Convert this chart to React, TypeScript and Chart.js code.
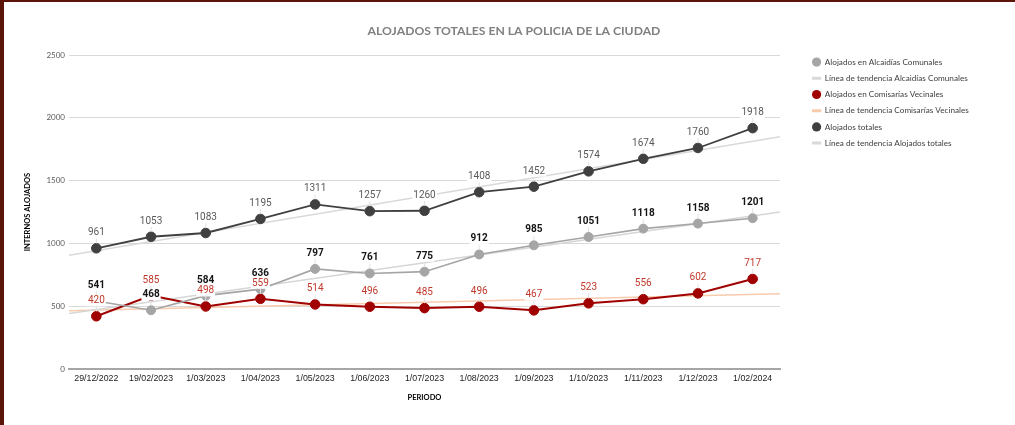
import React, { useEffect, useRef } from "react";
import { Chart, registerables } from "chart.js";

Chart.register(...registerables);

const categories = [
  "29/12/2022", "19/02/2023", "1/03/2023", "1/04/2023", "1/05/2023", "1/06/2023",
  "1/07/2023", "1/08/2023", "1/09/2023", "1/10/2023", "1/11/2023", "1/12/2023", "1/02/2024",
];
const alcaidias = [541, 468, 584, 636, 797, 761, 775, 912, 985, 1051, 1118, 1158, 1201];
const comisarias = [420, 585, 498, 559, 514, 496, 485, 496, 467, 523, 556, 602, 717];
const totales = [961, 1053, 1083, 1195, 1311, 1257, 1260, 1408, 1452, 1574, 1674, 1760, 1918];
const yTicks = [0, 500, 1000, 1500, 2000, 2500];
const seriesNames = [
  "Alojados en Alcaidías Comunales",
  "Línea de tendencia Alcaidías Comunales",
  "Alojados en Comisarías Vecinales",
  "Línea de tendencia Comisarías Vecinales",
  "Alojados totales",
  "Línea de tendencia Alojados totales",
];
const TITLE = "ALOJADOS TOTALES EN LA POLICIA DE LA CIUDAD";
const Y_TITLE = "INTERNOS ALOJADOS";
const X_TITLE = "PERIODO";

const X_MIN = -0.5;
const X_MAX = categories.length - 0.5;

function points(values: number[]) {
  return values.map((v, i) => ({ x: i, y: v }));
}

// Linear least-squares trend line computed from the series, spanning the plot
function trend(values: number[]) {
  const n = values.length;
  const mx = (n - 1) / 2;
  const my = values.reduce((a, b) => a + b, 0) / n;
  let sxy = 0;
  let sxx = 0;
  values.forEach((v, i) => {
    sxy += (i - mx) * (v - my);
    sxx += (i - mx) * (i - mx);
  });
  const b = sxy / sxx;
  const a = my - b * mx;
  return [X_MIN, X_MAX].map((x) => ({ x, y: a + b * x }));
}

const labelSpecs = [
  { dataset: 0, values: alcaidias, color: "#141414", weight: "bold" },
  { dataset: 2, values: comisarias, color: "#c0392b", weight: "normal" },
  { dataset: 4, values: totales, color: "#595959", weight: "normal" },
];

const valueLabels = {
  id: "valueLabels",
  afterDatasetsDraw(chart: any) {
    const ctx = chart.ctx;
    ctx.save();
    const items: any[] = [];
    labelSpecs.forEach((spec) => {
      const meta = chart.getDatasetMeta(spec.dataset);
      meta.data.forEach((pt: any, i: number) => {
        items.push({ x: pt.x, y: pt.y, text: String(spec.values[i]), color: spec.color, weight: spec.weight });
      });
    });
    ctx.strokeStyle = "#e2e2e2";
    ctx.lineWidth = 1;
    items.forEach((it) => {
      ctx.beginPath();
      ctx.moveTo(it.x, it.y - 10);
      ctx.lineTo(it.x, it.y - 5);
      ctx.stroke();
    });
    ctx.textAlign = "center";
    ctx.textBaseline = "middle";
    items.forEach((it) => {
      ctx.font = `${it.weight} 10px Roboto`;
      const w = ctx.measureText(it.text).width;
      const ly = it.y - 15.5;
      ctx.fillStyle = "#ffffff";
      ctx.fillRect(it.x - w / 2 - 1, ly - 5.5, w + 2, 11);
      ctx.fillStyle = it.color;
      ctx.fillText(it.text, it.x, ly);
    });
    ctx.restore();
  },
};

const LEGEND_WIDTH = 210.5;
const legendWidth = {
  id: "legendWidth",
  afterInit(chart: any) {
    const lg = chart.legend;
    if (lg && !lg.__wrapped) {
      const orig = lg.fit;
      lg.fit = function () {
        orig.call(this);
        this.width = LEGEND_WIDTH;
      };
      lg.__wrapped = true;
    }
  },
};

export default function App() {
  const ref = useRef<HTMLCanvasElement | null>(null);

  useEffect(() => {
    if (!ref.current) return;
    const grey = "#a5a5a5";
    const red = "#a00000";
    const dark = "#404040";
    const chart = new Chart(ref.current, {
      type: "line",
      data: {
        datasets: [
          {
            label: seriesNames[0],
            data: points(alcaidias),
            borderColor: grey,
            backgroundColor: grey,
            pointBackgroundColor: grey,
            pointBorderColor: grey,
            borderWidth: 1.6,
            pointRadius: 4.5,
            pointBorderWidth: 1,
            pointStyle: "circle",
            tension: 0,
            order: 1,
          },
          {
            label: seriesNames[1],
            data: trend(alcaidias),
            borderColor: "#d6d6d6",
            backgroundColor: "#d6d6d6",
            pointBorderColor: "#d9d9d9",
            borderWidth: 1.5,
            pointRadius: 0,
            pointStyle: "line",
            order: 2,
          },
          {
            label: seriesNames[2],
            data: points(comisarias),
            borderColor: red,
            backgroundColor: red,
            pointBackgroundColor: red,
            pointBorderColor: red,
            borderWidth: 2,
            pointRadius: 4.8,
            pointBorderWidth: 1,
            pointStyle: "circle",
            tension: 0,
            order: 1,
          },
          {
            label: seriesNames[3],
            data: trend(comisarias),
            borderColor: "#f8cbad",
            backgroundColor: "#f8cbad",
            pointBorderColor: "#f8cbad",
            borderWidth: 1.5,
            pointRadius: 0,
            pointStyle: "line",
            order: 2,
          },
          {
            label: seriesNames[4],
            data: points(totales),
            borderColor: dark,
            backgroundColor: dark,
            pointBackgroundColor: dark,
            pointBorderColor: dark,
            borderWidth: 1.8,
            pointRadius: 4.8,
            pointBorderWidth: 1,
            pointStyle: "circle",
            tension: 0,
            order: 1,
          },
          {
            label: seriesNames[5],
            data: trend(totales),
            borderColor: "#d9d9d9",
            backgroundColor: "#d9d9d9",
            pointBorderColor: "#d9d9d9",
            borderWidth: 1.5,
            pointRadius: 0,
            pointStyle: "line",
            order: 2,
          },
        ],
      },
      options: {
        responsive: false,
        animation: false,
        devicePixelRatio: 1,
        layout: { padding: { left: 9, right: 0, top: 0, bottom: 0 } },
        scales: {
          x: {
            type: "linear",
            min: X_MIN,
            max: X_MAX,
            afterBuildTicks: (s: any) => {
              s.ticks = categories.map((_, i) => ({ value: i }));
            },
            afterFit: (s: any) => {
              s.height = 56;
            },
            ticks: {
              callback: (v: any) => categories[v] ?? "",
              autoSkip: false,
              maxRotation: 0,
              color: "#222222",
              padding: 4,
              font: { family: "Liberation Sans", size: 8.8 },
            },
            grid: { display: false, drawTicks: false },
            border: { display: true, color: "#a6a6a6", width: 2 },
            title: {
              display: true,
              text: X_TITLE,
              color: "#000000",
              font: { family: "Lato", size: 7.5, weight: "bold" },
              padding: { top: 0, bottom: 22.5 },
            },
          },
          y: {
            type: "linear",
            min: 0,
            max: 2500,
            afterBuildTicks: (s: any) => {
              s.ticks = yTicks.map((v) => ({ value: v }));
            },
            afterFit: (s: any) => {
              s.width = 56;
            },
            ticks: {
              callback: (v: any) => String(v),
              color: "#595959",
              padding: 4,
              font: { family: "Lato", size: 8 },
            },
            grid: { color: "#d9d9d9", lineWidth: 1, drawTicks: false },
            border: { display: false },
            title: {
              display: true,
              text: Y_TITLE,
              color: "#000000",
              font: { family: "Lato", size: 7.5, weight: "bold" },
              padding: { top: 10.5, bottom: 0 },
            },
          },
          y2: {
            type: "linear",
            position: "right",
            display: true,
            min: 0,
            max: 1,
            grid: { display: false, drawTicks: false },
            border: { display: false },
            ticks: { display: false },
            afterFit: (s: any) => {
              s.width = 24.5;
            },
          },
        },
        plugins: {
          title: {
            display: true,
            text: TITLE,
            color: "#808080",
            font: { family: "Lato", size: 12.2, weight: "bold" },
            padding: { top: 21.7, bottom: 16.7 },
          },
          legend: {
            display: true,
            position: "right",
            align: "start",
            title: { display: true, text: " ", font: { size: 10 }, padding: { top: 0, bottom: 36 } },
            labels: {
              usePointStyle: true,
              boxWidth: 9,
              boxHeight: 6.5,
              padding: 8,
              color: "#404040",
              font: { family: "Lato", size: 8.2 },
              sort: (a: any, b: any) => a.datasetIndex - b.datasetIndex,
              generateLabels: (chart: any) =>
                Chart.defaults.plugins.legend.labels.generateLabels(chart).map((l: any) => ({
                  ...l,
                  lineWidth: l.pointStyle === "line" ? 3 : 0,
                })),
            },
          },
          tooltip: { enabled: false },
        },
      },
      plugins: [valueLabels, legendWidth],
    } as any);
    return () => chart.destroy();
  }, []);

  return (
    <div
      style={{
        position: "fixed",
        left: 0,
        top: 0,
        width: 1015,
        height: 425,
        boxSizing: "border-box",
        background: "#ffffff",
        borderLeft: "4px solid #5a140a",
        borderTop: "2px solid #5a140a",
      }}
    >
      <canvas ref={ref} width={1011} height={423} style={{ display: "block" }} />
    </div>
  );
}
